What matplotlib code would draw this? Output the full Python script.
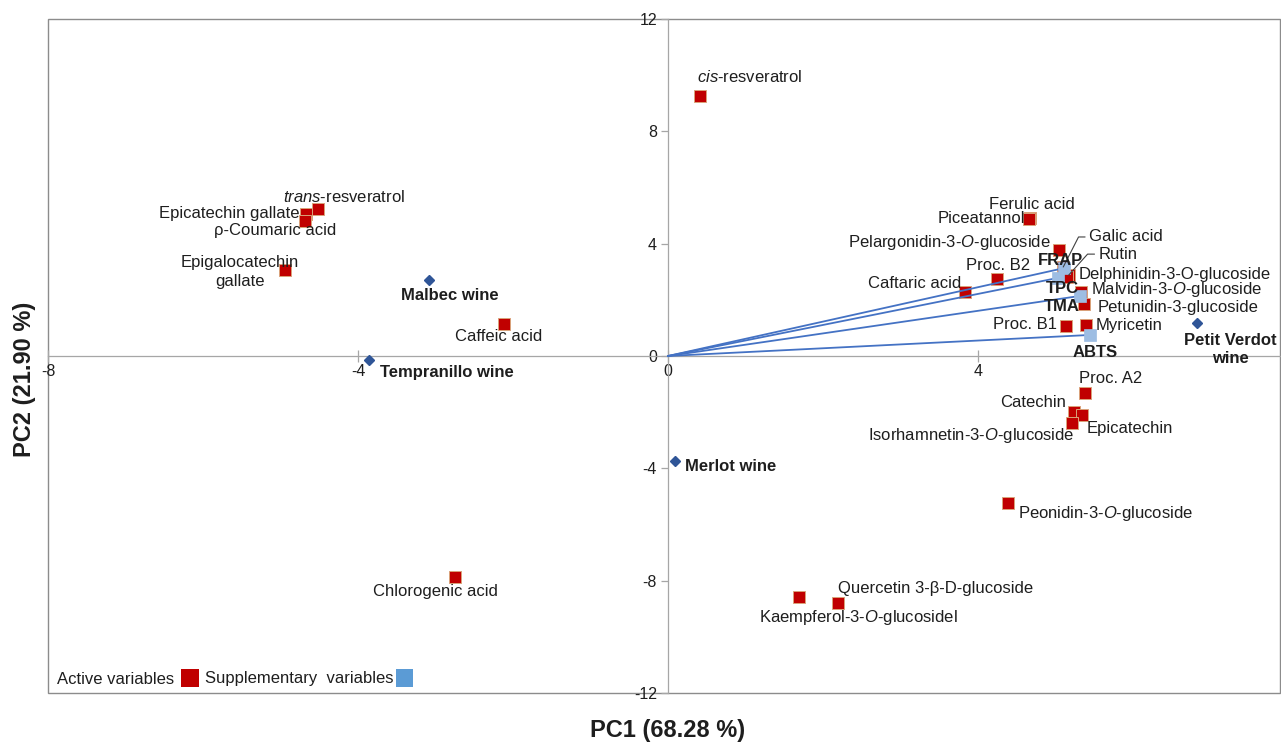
import matplotlib
matplotlib.use("Agg")
import matplotlib.pyplot as plt
from matplotlib.patches import Rectangle

plt.rcParams['font.family'] = ['Liberation Sans', 'DejaVu Sans']
plt.rcParams['mathtext.fontset'] = 'custom'
plt.rcParams['mathtext.rm'] = 'Liberation Sans'
plt.rcParams['mathtext.it'] = 'Liberation Sans:italic'
plt.rcParams['mathtext.bf'] = 'Liberation Sans:bold'

# ---------------- data ----------------
active_names = [
    r"$\mathit{cis}$-resveratrol", r"$\mathit{trans}$-resveratrol", "Epicatechin gallate",
    "ρ-Coumaric acid", "Epigalocatechin\ngallate", "Caffeic acid", "Chlorogenic acid",
    "Quercetin 3-β-D-glucoside", r"Kaempferol-3-$\mathit{O}$-glucosidel",
    r"Peonidin-3-$\mathit{O}$-glucoside", "Proc. A2", "Catechin", "Epicatechin",
    r"Isorhamnetin-3-$\mathit{O}$-glucoside", "Ferulic acid", "Piceatannol",
    r"Pelargonidin-3-$\mathit{O}$-glucoside", "Proc. B2", "Caftaric acid", "Galic acid",
    "Rutin", "Delphinidin-3-O-glucoside", r"Malvidin-3-$\mathit{O}$-glucoside",
    "Petunidin-3-glucoside", "Proc. B1", "Myricetin",
]
active_pc1 = [0.41, -4.52, -4.67, -4.68, -4.94, -2.12, -2.75, 1.69, 2.19, 4.39, 5.38, 5.24,
              5.34, 5.21, 4.67, 4.66, 5.05, 4.25, 3.83, 5.10, 5.17, 5.15, 5.33, 5.37, 5.14, 5.39]
active_pc2 = [9.25, 5.23, 5.05, 4.80, 3.06, 1.14, -7.86, -8.58, -8.79, -5.23, -1.32, -1.99,
              -2.10, -2.38, 4.91, 4.88, 3.77, 2.74, 2.28, 3.17, 2.88, 2.81, 2.28, 1.85, 1.07, 1.10]

supp_names = ["FRAP", "TPC", "TMA", "ABTS"]
supp_pc1 = [5.11, 5.03, 5.32, 5.45]
supp_pc2 = [3.13, 2.78, 2.14, 0.75]

wine_names = ["Malbec wine", "Tempranillo wine", "Merlot wine", "Petit Verdot\nwine"]
wine_pc1 = [-3.08, -3.86, 0.09, 6.83]
wine_pc2 = [2.70, -0.14, -3.74, 1.17]

x_ticks = [-8, -4, 0, 4]
y_ticks = [-12, -8, -4, 0, 4, 8, 12]

# label placement (offset in pixels, horizontal alignment)
active_layout = [
    (-3, 19, 'left'), (-35, 12, 'left'), (-7, 1, 'right'), (-91, -9, 'left'),
    (-45, -2, 'center'), (-49, -13, 'left'), (-82, -15, 'left'), (39, 8, 'left'),
    (-79, -15, 'left'), (10, -11, 'left'), (-6, 15, 'left'), (-8, 9, 'right'),
    (5, -14, 'left'), (3, -13, 'right'), (-41, 14, 'left'), (-4, 0, 'right'),
    (-9, 8, 'right'), (1, 14, 'center'), (-4, 8, 'right'), None,
    None, (12, 3, 'left'), (10, 2, 'left'), (13, -3, 'left'), (-9, 1, 'right'),
    (10, 0, 'left'),
]
leader_layout = {19: ((26, 30), 63), 20: ((30, 21), 48)}
supp_layout = [(-4, 8), (5, -11), (-18, -11), (5, -18)]
wine_layout = [(21, -15, 'center'), (11, -13, 'left'), (10, -5, 'left'), (33, -26, 'center')]

W, H = 1281, 744
RED = '#C00000'
RED_EDGE = '#D9A37A'
LBLUE = '#9DBDE3'
DBLUE = '#2F5597'
LINE = '#4472C4'
TXT = '#1E1E1E'
GRID = '#A6A6A6'

fig = plt.figure(figsize=(W / 100, H / 100), dpi=100)
ax = fig.add_axes([48 / W, (H - 693) / H, (1280 - 48) / W, (693 - 19) / H])
ax.set_xlim(-8, (1280 - 668) / 77.5)
ax.set_ylim(-12, 12)

# axes at zero
for s in ['top', 'right']:
    ax.spines[s].set_visible(False)
ax.spines['left'].set_position(('data', 0))
ax.spines['bottom'].set_position(('data', 0))
ax.spines['left'].set_color(GRID)
ax.spines['bottom'].set_color(GRID)
ax.spines['left'].set_linewidth(0.9)
ax.spines['bottom'].set_linewidth(0.9)
ax.add_patch(Rectangle((0, 0), 1, 1, transform=ax.transAxes, fill=False,
                       edgecolor='#8C8C8C', linewidth=1.0, clip_on=False, zorder=0))
ax.set_xticks(x_ticks)
ax.set_yticks(y_ticks)
ax.set_xticklabels([str(t) for t in x_ticks])
ax.set_yticklabels([str(t) for t in y_ticks])
ax.tick_params(axis='x', direction='inout', length=8, width=0.9, color=GRID,
               labelsize=11.5, labelcolor=TXT, pad=2)
ax.tick_params(axis='y', direction='out', length=5, width=0.9, color=GRID,
               labelsize=11.5, labelcolor=TXT, pad=3)

# loading lines for supplementary variables
for x, y in zip(supp_pc1, supp_pc2):
    ax.plot([0, x], [0, y], color=LINE, lw=1.3, zorder=4)

# active variables
ax.plot(active_pc1, active_pc2, ls='none', marker='s', ms=8.3, mfc=RED,
        mec=RED_EDGE, mew=0.7, zorder=3)
# supplementary variables
ax.plot(supp_pc1, supp_pc2, ls='none', marker='s', ms=9.0, mfc=LBLUE,
        mec=LBLUE, mew=0.5, zorder=5)
# wines
ax.plot(wine_pc1, wine_pc2, ls='none', marker='D', ms=5.5, mfc=DBLUE,
        mec=DBLUE, zorder=5)

for i, (name, x, y) in enumerate(zip(active_names, active_pc1, active_pc2)):
    lay = active_layout[i]
    if lay is None:
        (dx, dy), ang = leader_layout[i]
        ax.annotate(name, (x, y), xytext=(dx, dy), textcoords='offset pixels',
                    ha='left', va='center', fontsize=12, color=TXT, zorder=6,
                    arrowprops=dict(arrowstyle='-', color='#404040', lw=0.8,
                                    shrinkA=1, shrinkB=0, relpos=(0, 0.5),
                                    connectionstyle=f"angle,angleA=0,angleB={ang},rad=0"))
    else:
        dx, dy, ha = lay
        ax.annotate(name, (x, y), xytext=(dx, dy), textcoords='offset pixels',
                    ha=ha, va='center', fontsize=12, color=TXT, zorder=6,
                    multialignment='center', linespacing=1.35)

for name, x, y, (dx, dy) in zip(supp_names, supp_pc1, supp_pc2, supp_layout):
    ax.annotate(name, (x, y), xytext=(dx, dy), textcoords='offset pixels',
                ha='center', va='center', fontsize=12, fontweight='bold',
                color=TXT, zorder=6)

for name, x, y, (dx, dy, ha) in zip(wine_names, wine_pc1, wine_pc2, wine_layout):
    ax.annotate(name, (x, y), xytext=(dx, dy), textcoords='offset pixels',
                ha=ha, va='center', fontsize=12, fontweight='bold',
                color=TXT, zorder=6, multialignment='center', linespacing=1.25)

# axis titles
fig.text(668 / W, 1 - 731 / H, "PC1 (68.28 %)", ha='center', va='center',
         fontsize=17, fontweight='bold', color=TXT)
fig.text(25 / W, 1 - 379 / H, "PC2 (21.90 %)", ha='center', va='center',
         fontsize=17, fontweight='bold', color=TXT, rotation=90)

# legend
fig.text(57 / W, 1 - 679 / H, "Active variables", ha='left', va='center',
         fontsize=12, color=TXT)
fig.add_artist(Rectangle((181 / W, 1 - 687 / H), 18 / W, 18 / H,
                         transform=fig.transFigure, facecolor=RED, edgecolor='none'))
fig.text(205 / W, 1 - 679 / H, "Supplementary  variables", ha='left', va='center',
         fontsize=12, color=TXT)
fig.add_artist(Rectangle((396 / W, 1 - 687 / H), 17 / W, 18 / H,
                         transform=fig.transFigure, facecolor='#5B9BD5', edgecolor='none'))

fig.savefig("out.png", dpi=100, facecolor='white')
